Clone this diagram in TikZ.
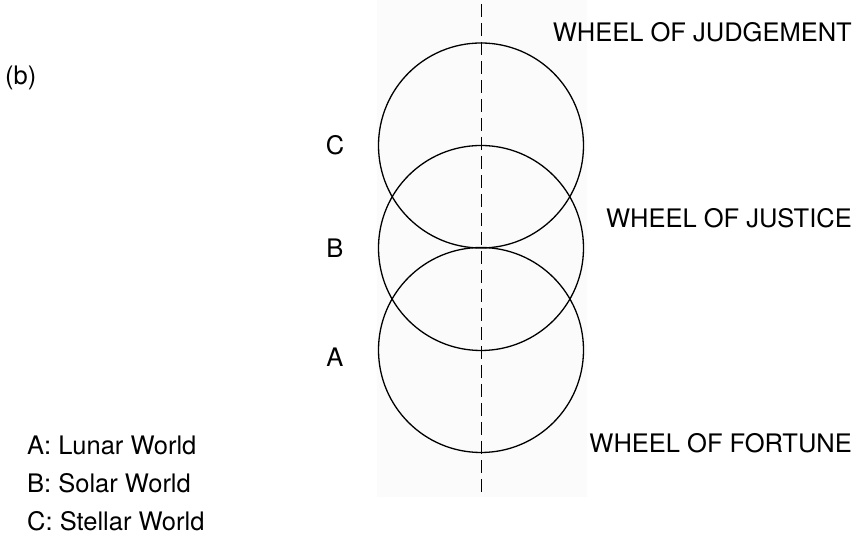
\documentclass[tikz,border=0pt]{standalone}
\usepackage{fontspec}
\setmainfont{TeX Gyre Heros}
\usetikzlibrary{positioning}
\definecolor{paper}{HTML}{FBFBFB}

\begin{document}
\begin{tikzpicture}[x=1pt,y=1pt,
    wheel/.style={line width=1.3pt},
    axis/.style={line width=0.9pt,dash pattern=on 13pt off 6pt},
    lbl/.style={inner sep=0pt,font=\fontsize{25.5}{30}\selectfont}]
  \useasboundingbox (0,0) rectangle (865,537);
  \fill[paper] (377,40) rectangle (587,537);
  \coordinate (top) at (481,533);
  \coordinate (bot) at (481,44);
  \coordinate (cC) at (481,391.5);
  \coordinate (cB) at (481,289);
  \coordinate (cA) at (481,187);
  \draw[axis] (top) -- (bot);
  \draw[wheel] (cC) circle[radius=102.5];
  \draw[wheel] (cB) circle[radius=102.5];
  \draw[wheel] (cA) circle[radius=102.5];
  \node[lbl,anchor=base] (labC) at (335,382) {C};
  \node[lbl,anchor=base] (labB) at (335,279) {B};
  \node[lbl,anchor=base] (labA) at (335,170) {A};
  \node[lbl,anchor=base east] (judgement) at (852,495) {WHEEL OF JUDGEMENT};
  \node[lbl,anchor=base east] (justice) at (852,309) {WHEEL OF JUSTICE};
  \node[lbl,anchor=base east] (fortune) at (852,84) {WHEEL OF FORTUNE};
  \node[lbl,anchor=base west] (part) at (5,452) {(b)};
  \node[lbl,anchor=base west] (lunar) at (27,82) {A: Lunar World};
  \node[lbl,anchor=base west] (solar) at (27,44) {B: Solar World};
  \node[lbl,anchor=base west] (stellar) at (27,6) {C: Stellar World};
\end{tikzpicture}
\end{document}
